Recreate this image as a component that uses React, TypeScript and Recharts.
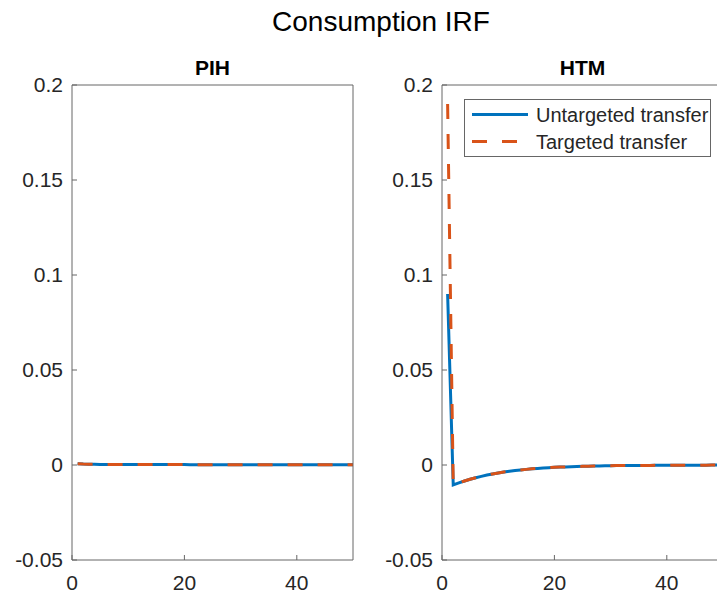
import { LineChart, Line, XAxis, YAxis } from "recharts";

// x axis: periods after the transfer
const periods = [
  1, 2, 3, 4, 5, 6, 7, 8, 9, 10, 11, 12, 13, 14, 15, 16, 17, 18, 19, 20, 21, 22, 23, 24, 25,
  26, 27, 28, 29, 30, 31, 32, 33, 34, 35, 36, 37, 38, 39, 40, 41, 42, 43, 44, 45, 46, 47, 48, 49, 50,
];

// PIH households: response is tiny and basically flat
const pihUntargeted = [
  0.0007, 0.0005, 0.0004, 0.0004, 0.0003, 0.0003, 0.0003, 0.0003, 0.0002, 0.0002,
  0.0002, 0.0002, 0.0002, 0.0002, 0.0002, 0.0002, 0.0002, 0.0002, 0.0002, 0.0002,
  0.0001, 0.0001, 0.0001, 0.0001, 0.0001, 0.0001, 0.0001, 0.0001, 0.0001, 0.0001,
  0.0001, 0.0001, 0.0001, 0.0001, 0.0001, 0.0001, 0.0001, 0.0001, 0.0001, 0.0001,
  0.0001, 0.0001, 0.0001, 0.0001, 0.0001, 0.0001, 0.0001, 0.0001, 0.0001, 0.0001,
];
const pihTargeted = [
  0.0007, 0.0005, 0.0004, 0.0004, 0.0003, 0.0003, 0.0003, 0.0003, 0.0002, 0.0002,
  0.0002, 0.0002, 0.0002, 0.0002, 0.0002, 0.0002, 0.0002, 0.0002, 0.0002, 0.0002,
  0.0001, 0.0001, 0.0001, 0.0001, 0.0001, 0.0001, 0.0001, 0.0001, 0.0001, 0.0001,
  0.0001, 0.0001, 0.0001, 0.0001, 0.0001, 0.0001, 0.0001, 0.0001, 0.0001, 0.0001,
  0.0001, 0.0001, 0.0001, 0.0001, 0.0001, 0.0001, 0.0001, 0.0001, 0.0001, 0.0001,
];

// HTM households: same path after period 1, only the impact differs
const htmTail = [
  -0.0105, -0.0094, -0.0084, -0.0075, -0.0067, -0.006, -0.0053, -0.0047, -0.0042,
  -0.0037, -0.0033, -0.0029, -0.0026, -0.0023, -0.002, -0.0018, -0.0016, -0.0014, -0.0012,
  -0.0011, -0.001, -0.0009, -0.0008, -0.0007, -0.0006, -0.0005, -0.0005, -0.0004, -0.0004,
  -0.0003, -0.0003, -0.0003, -0.0002, -0.0002, -0.0002, -0.0002, -0.0001, -0.0001, -0.0001,
  -0.0001, -0.0001, -0.0001, -0.0001, -0.0001, -0.0001, -0.0001, 0, 0, 0,
];
const htmUntargeted = [0.09, ...htmTail];
const htmTargeted = [0.19, ...htmTail];

const xTicks = [0, 20, 40];
const yTicks = [-0.05, 0, 0.05, 0.1, 0.15, 0.2];
const seriesNames = ["Untargeted transfer", "Targeted transfer"];

const BLUE = "#0072BD";
const ORANGE = "#D95319";
const AXIS = "#666666";
const TEXT = "#262626";
const FONT = "'Liberation Sans', Arial, Helvetica, sans-serif";
const DASH = "15 15";

const toRows = (u: number[], g: number[]) =>
  periods.map((t, i) => ({ t, u: u[i], g: g[i] }));

const pihData = toRows(pihUntargeted, pihTargeted);
const htmData = toRows(htmUntargeted, htmTargeted);

function Panel({ data, width, plotLeft, plotRight }: any) {
  return (
    <LineChart
      width={width}
      height={594}
      data={data}
      margin={{ top: 85, left: plotLeft - 60, right: width - plotRight, bottom: 4 }}
      style={{ position: "absolute", left: 0, top: 0 }}
    >
      <XAxis
        xAxisId="b"
        dataKey="t"
        type="number"
        domain={[0, 50]}
        ticks={xTicks}
        allowDataOverflow
        height={30}
        tickSize={-5}
        tickMargin={20}
        stroke={AXIS}
        tick={{ fill: TEXT, fontSize: 21, fontFamily: FONT }}
      />
      <XAxis
        xAxisId="t"
        dataKey="t"
        orientation="top"
        mirror
        type="number"
        domain={[0, 50]}
        ticks={xTicks}
        allowDataOverflow
        tick={false}
        tickSize={5}
        stroke={AXIS}
      />
      <YAxis
        yAxisId="l"
        type="number"
        domain={[-0.05, 0.2]}
        ticks={yTicks}
        allowDataOverflow
        width={60}
        tickSize={-5}
        tickMargin={14}
        stroke={AXIS}
        tick={{ fill: TEXT, fontSize: 21, fontFamily: FONT }}
      />
      <YAxis
        yAxisId="r"
        orientation="right"
        mirror
        type="number"
        domain={[-0.05, 0.2]}
        ticks={yTicks}
        allowDataOverflow
        tick={false}
        tickSize={5}
        stroke={AXIS}
      />
      <Line
        xAxisId="b"
        yAxisId="l"
        dataKey="u"
        name={seriesNames[0]}
        stroke={BLUE}
        strokeWidth={3}
        dot={false}
        isAnimationActive={false}
      />
      <Line
        xAxisId="b"
        yAxisId="l"
        dataKey="g"
        name={seriesNames[1]}
        stroke={ORANGE}
        strokeWidth={3}
        strokeDasharray={DASH}
        dot={false}
        isAnimationActive={false}
      />
    </LineChart>
  );
}

export default function App() {
  return (
    <div
      style={{
        position: "absolute",
        left: 0,
        top: 0,
        width: 717,
        height: 594,
        overflow: "hidden",
        background: "#fff",
        fontFamily: FONT,
      }}
    >
      <Panel data={pihData} width={717} plotLeft={72} plotRight={353} />
      <Panel data={htmData} width={740} plotLeft={442} plotRight={723} />
      <svg width={717} height={594} style={{ position: "absolute", left: 0, top: 0, pointerEvents: "none" }}>
        <text x={381} y={31} textAnchor="middle" fontSize={28} fill="#000" fontFamily={FONT}>
          Consumption IRF
        </text>
        <text x={212.5} y={75} textAnchor="middle" fontSize={21} fontWeight="bold" fill="#000" fontFamily={FONT}>
          PIH
        </text>
        <text x={582.5} y={75} textAnchor="middle" fontSize={21} fontWeight="bold" fill="#000" fontFamily={FONT}>
          HTM
        </text>
        <rect x={464.5} y={99.5} width={246} height={57} fill="#fff" stroke={AXIS} strokeWidth={1} />
        <line x1={472} x2={528} y1={114.5} y2={114.5} stroke={BLUE} strokeWidth={3} />
        <text x={536} y={122} fontSize={20} fill={TEXT} fontFamily={FONT}>
          {seriesNames[0]}
        </text>
        <line x1={472} x2={528} y1={141.5} y2={141.5} stroke={ORANGE} strokeWidth={3} strokeDasharray={DASH} />
        <text x={536} y={149} fontSize={20} fill={TEXT} fontFamily={FONT}>
          {seriesNames[1]}
        </text>
      </svg>
    </div>
  );
}
